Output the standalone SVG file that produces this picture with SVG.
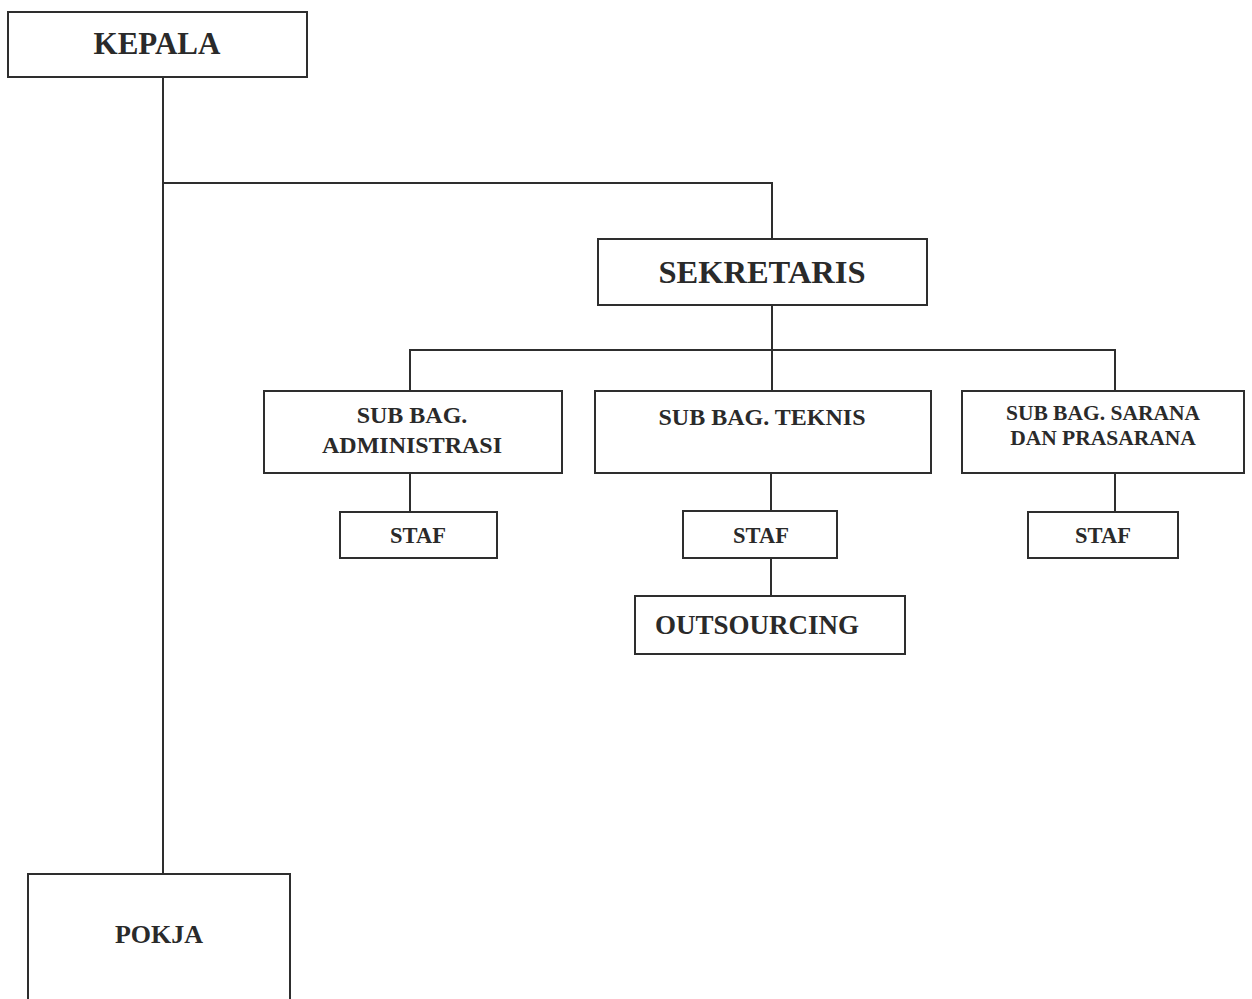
<svg xmlns="http://www.w3.org/2000/svg" width="1252" height="999" viewBox="0 0 1252 999">
<style>
.box{fill:#fff;stroke:#2e2e2e;stroke-width:2}
.ln{fill:none;stroke:#2e2e2e;stroke-width:2}
text{font-family:"Liberation Serif","Times New Roman",serif;font-weight:bold;fill:#2a2a2a;text-anchor:middle}
</style>
<rect width="1252" height="999" fill="#fff"/>
<g id="connectors">
<polyline class="ln" points="163,77 163,874"/>
<polyline class="ln" points="163,183 772,183 772,239"/>
<polyline class="ln" points="772,305 772,391"/>
<polyline class="ln" points="410,391 410,350 1115,350 1115,391"/>
<polyline class="ln" points="410,473 410,512"/>
<polyline class="ln" points="771,473 771,511"/>
<polyline class="ln" points="771,558 771,596"/>
<polyline class="ln" points="1115,473 1115,512"/>
</g>
<g id="kepala"><rect class="box" x="8" y="12" width="299" height="65"/><text x="157" y="54" font-size="31">KEPALA</text></g>
<g id="sekretaris"><rect class="box" x="598" y="239" width="329" height="66"/><text x="762" y="283" font-size="32.5">SEKRETARIS</text></g>
<g id="subbag-admin"><rect class="box" x="264" y="391" width="298" height="82"/><text x="412" y="423" font-size="24">SUB BAG.</text><text x="412" y="453" font-size="24">ADMINISTRASI</text></g>
<g id="subbag-teknis"><rect class="box" x="595" y="391" width="336" height="82"/><text x="762" y="425" font-size="24">SUB BAG. TEKNIS</text></g>
<g id="subbag-sarana"><rect class="box" x="962" y="391" width="282" height="82"/><text x="1103" y="420" font-size="21.5">SUB BAG. SARANA</text><text x="1103" y="445" font-size="21.5">DAN PRASARANA</text></g>
<g id="staf-admin"><rect class="box" x="340" y="512" width="157" height="46"/><text x="418" y="543" font-size="22.5">STAF</text></g>
<g id="staf-teknis"><rect class="box" x="683" y="511" width="154" height="47"/><text x="761" y="543" font-size="22.5">STAF</text></g>
<g id="staf-sarana"><rect class="box" x="1028" y="512" width="150" height="46"/><text x="1103" y="543" font-size="22.5">STAF</text></g>
<g id="outsourcing"><rect class="box" x="635" y="596" width="270" height="58"/><text x="757" y="634" font-size="27">OUTSOURCING</text></g>
<g id="pokja"><rect class="box" x="28" y="874" width="262" height="130"/><text x="159" y="943" font-size="26">POKJA</text></g>
</svg>
